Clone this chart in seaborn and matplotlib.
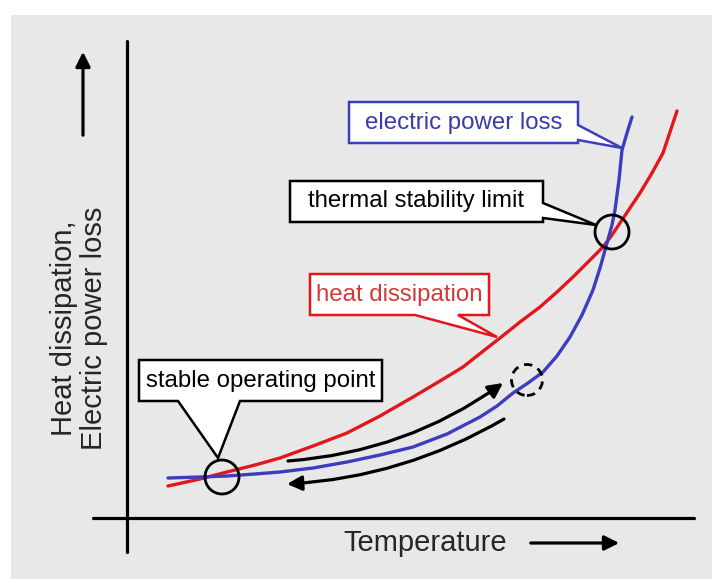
import numpy as np
import pandas as pd
import matplotlib.pyplot as plt
import seaborn as sns
from matplotlib.patches import Polygon, Circle, Rectangle

# -------------------------
# 1. Data (arbitrary units: temperature T, power P)
# -------------------------
heat_T = [4.1, 7.3, 10.0, 12.8, 15.3, 18.6, 22.0, 25.3, 28.6, 31.3, 33.6, 35.5, 37.3,
          39.3, 41.3, 43.0, 44.6, 46.1, 47.6, 48.5, 49.3, 50.3, 51.3, 52.5, 53.6, 54.3, 55.0]
heat_P = [3.2, 3.9, 4.6, 5.3, 6.0, 7.2, 8.5, 10.2, 12.1, 13.7, 15.1, 16.6, 18.0,
          19.6, 21.1, 22.6, 24.1, 25.6, 27.1, 28.3, 29.5, 31.0, 32.5, 34.5, 36.5, 38.6, 40.7]

loss_T = [4.1, 7.3, 10.0, 12.8, 15.3, 18.6, 22.0, 25.3, 28.6, 32.0, 35.3, 37.0, 38.6,
          40.1, 41.6, 43.0, 44.3, 45.5, 46.6, 47.3, 48.0, 48.5, 48.8, 49.2, 49.5, 50.0, 50.5]
loss_P = [4.0, 4.1, 4.2, 4.4, 4.6, 5.0, 5.6, 6.3, 7.1, 8.4, 10.1, 11.2, 12.5,
          13.5, 14.6, 16.2, 18.1, 20.3, 22.8, 25.0, 27.5, 29.3, 30.8, 33.8, 36.8, 38.5, 40.1]

labels = ["stable operating point", "heat dissipation",
          "thermal stability limit", "electric power loss"]

df = pd.concat([
    pd.DataFrame({"T": heat_T, "P": heat_P, "curve": "heat dissipation"}),
    pd.DataFrame({"T": loss_T, "P": loss_P, "curve": "electric power loss"}),
])

RED = "#e3161b"
BLUE = "#3d3dbf"
GRAY = "#e8e8e8"

# -------------------------
# 2. Figure
# -------------------------
sns.set_style("white")
plt.rcParams["font.family"] = ["Liberation Sans", "DejaVu Sans"]

fig = plt.figure(figsize=(7.12, 5.79), dpi=100)
fig.patch.set_facecolor("white")
ax = fig.add_axes([0, 0, 1, 1])

# gray panel
ax.add_patch(Rectangle((-11.6, -6.1), 80, 56.4, facecolor=GRAY, edgecolor="none", zorder=0))

# axis lines
ax.plot([0, 0], [-3.4, 47.7], color="black", lw=2.3, zorder=1)
ax.plot([-3.4, 56.7], [0, 0], color="black", lw=2.3, zorder=1)

# direction arrows
ax.annotate("", xy=(-4.4, 46.9), xytext=(-4.4, 38.0),
            arrowprops=dict(arrowstyle="-|>", color="black", lw=2.3, mutation_scale=22))
ax.annotate("", xy=(49.5, -2.5), xytext=(40.1, -2.5),
            arrowprops=dict(arrowstyle="-|>", color="black", lw=2.3, mutation_scale=22))

ax.text(29.8, -2.5, "Temperature", fontsize=21, ha="center", va="center")
ax.text(-4.8, 19.0, "Heat dissipation,\nElectric power loss", fontsize=21,
        rotation=90, ha="center", va="center", linespacing=1.05)

# -------------------------
# 3. Curves
# -------------------------
sns.lineplot(data=df, x="T", y="P", hue="curve", sort=False, estimator=None,
             palette={"heat dissipation": RED, "electric power loss": BLUE},
             lw=2.4, legend=False, ax=ax, zorder=3)
ax.set_xlim(-12.7, 58.5)
ax.set_ylim(-6.1, 51.8)
ax.axis("off")

# -------------------------
# 4. Process arrows and markers
# -------------------------
ax.annotate("", xy=(37.6, 13.5), xytext=(16.1, 5.7),
            arrowprops=dict(arrowstyle="-|>", color="black", lw=2.3, mutation_scale=22,
                            connectionstyle="arc3,rad=0.14", shrinkA=0, shrinkB=0), zorder=4)
ax.annotate("", xy=(16.0, 3.4), xytext=(37.7, 9.9),
            arrowprops=dict(arrowstyle="-|>", color="black", lw=2.3, mutation_scale=22,
                            connectionstyle="arc3,rad=-0.12", shrinkA=0, shrinkB=0), zorder=4)

ax.add_patch(Circle((9.5, 4.1), 1.7, fill=False, ec="black", lw=2, zorder=5))
ax.add_patch(Circle((48.5, 28.6), 1.7, fill=False, ec="black", lw=2, zorder=5))
ax.add_patch(Circle((40.0, 13.8), 1.55, fill=False, ec="black", lw=2,
                    ls=(0, (3, 2.2)), zorder=5))

# -------------------------
# 5. Callouts
# -------------------------
callouts = [
    # outline, edge colour, text colour, text centre
    ([(1.2, 15.8), (25.5, 15.8), (25.5, 11.7), (11.3, 11.7), (9.1, 6.0),
      (5.1, 11.7), (1.2, 11.7)], "black", "black", (13.35, 13.75)),
    ([(18.3, 24.4), (36.2, 24.4), (36.2, 20.3), (33.1, 20.3), (37.0, 18.1),
      (28.8, 20.3), (18.3, 20.3)], RED, "#d23a3a", (27.25, 22.35)),
    ([(16.3, 33.7), (41.6, 33.7), (41.6, 31.5), (46.9, 29.3), (41.6, 30.0),
      (41.6, 29.6), (16.3, 29.6)], "black", "black", (28.95, 31.65)),
    ([(22.2, 41.6), (45.1, 41.6), (45.1, 39.3), (49.5, 37.0), (45.1, 37.8),
      (45.1, 37.5), (22.2, 37.5)], BLUE, "#3a3aa8", (33.65, 39.55)),
]
for label, (pts, ec, tc, (tx, ty)) in zip(labels, callouts):
    ax.add_patch(Polygon(pts, closed=True, facecolor="white", edgecolor=ec,
                         lw=1.8, joinstyle="miter", zorder=6))
    ax.text(tx, ty, label, fontsize=17.3, color=tc, ha="center", va="center", zorder=7)

fig.savefig("out.png", dpi=100)
